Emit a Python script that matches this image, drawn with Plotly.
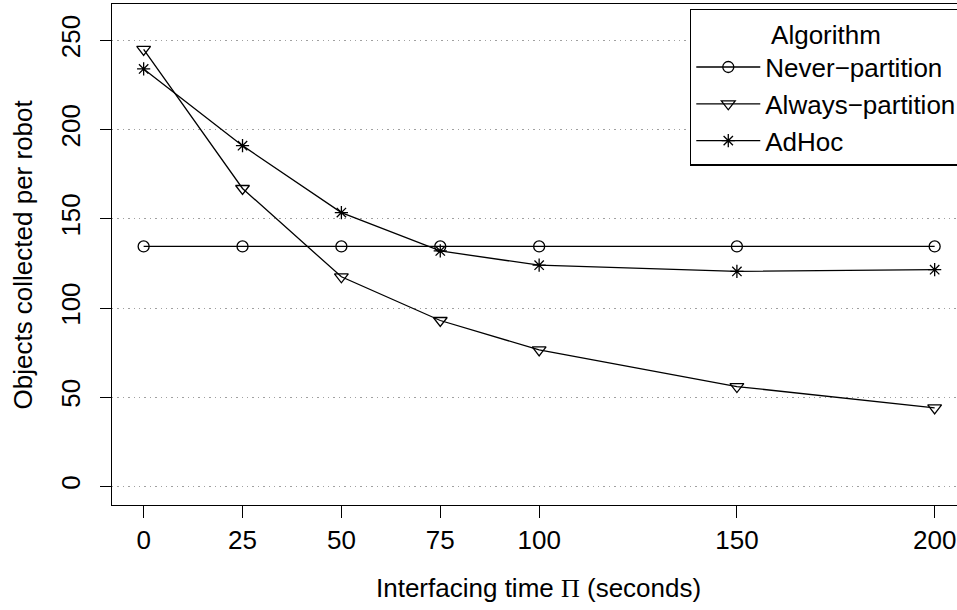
import plotly.graph_objects as go

# Interfacing time (seconds) and objects collected per robot for each algorithm
interfacing_time = [0, 25, 50, 75, 100, 150, 200]
never_partition = [134.5, 134.5, 134.5, 134.5, 134.5, 134.5, 134.5]
always_partition = [245, 167, 117.5, 93, 76.5, 56, 44]
adhoc = [234, 191, 153.5, 132, 124, 120.5, 121.5]

y_ticks = [0, 50, 100, 150, 200, 250]

FONT = "Liberation Sans, Arial, Helvetica, sans-serif"
FS = 26
LW = 1.3

series = [
    ("Never\u2212partition", never_partition, "circle-open", 11),
    ("Always\u2212partition", always_partition, "triangle-down-open", 12),
    ("AdHoc", adhoc, "asterisk-open", 11),
]

fig = go.Figure()
for name, values, symbol, size in series:
    fig.add_trace(go.Scatter(
        x=interfacing_time, y=values, name=name,
        mode="lines+markers",
        line=dict(color="black", width=LW),
        marker=dict(symbol=symbol, size=size, color="black",
                    line=dict(color="black", width=LW)),
    ))

fig.update_layout(
    width=957, height=610,
    margin=dict(l=112, r=0, t=4, b=105, autoexpand=False),
    paper_bgcolor="white", plot_bgcolor="white",
    font=dict(family=FONT, size=FS, color="black"),
    showlegend=True,
    legend=dict(
        x=0.684, xanchor="left", y=0.991, yanchor="top",
        bgcolor="white", bordercolor="black", borderwidth=LW,
        font=dict(family=FONT, size=FS, color="black"),
        title=dict(text="Algorithm", side="top center",
                   font=dict(family=FONT, size=FS, color="black")),
        itemwidth=64,
    ),
    xaxis=dict(
        range=[-8, 205.65],
        tickmode="array", tickvals=interfacing_time,
        ticks="outside", ticklen=12, tickwidth=LW, tickcolor="black",
        showline=True, linecolor="black", linewidth=LW, mirror=True,
        showgrid=False, zeroline=False,
        tickfont=dict(family=FONT, size=FS, color="black"),
    ),
    yaxis=dict(
        range=[-10.4, 270.4],
        tickmode="array", tickvals=y_ticks,
        ticks="outside", ticklen=11, tickwidth=LW, tickcolor="black",
        tickangle=-90, ticklabelstandoff=9,
        showline=True, linecolor="black", linewidth=LW, mirror=False,
        showgrid=True, gridcolor="#a0a0a0", gridwidth=1,
        griddash="1.35px,4.05px",
        zeroline=False,
        tickfont=dict(family=FONT, size=FS, color="black"),
    ),
    annotations=[
        dict(text="Interfacing time <span style=\"font-family:'Liberation Serif', 'Times New Roman', serif\">\u03a0</span> (seconds)",
             xref="paper", yref="paper", x=0.5053, y=-0.1657,
             xanchor="center", yanchor="middle", showarrow=False,
             font=dict(family=FONT, size=FS, color="black")),
        dict(text="Objects collected per robot",
             xref="paper", yref="paper", x=-0.1065, y=0.5,
             xanchor="center", yanchor="middle", textangle=-90, showarrow=False,
             font=dict(family=FONT, size=FS, color="black")),
    ],
)

fig.write_html("out.html")
